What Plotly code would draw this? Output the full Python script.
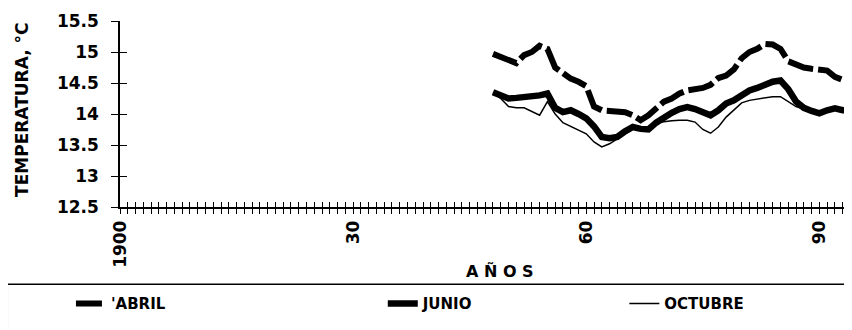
import plotly.graph_objects as go

years = list(range(1948, 1995))

abril = [14.97, 14.92, 14.86, 14.82, 14.95, 15.00, 15.10, 15.05, 14.75, 14.65,
         14.57, 14.52, 14.45, 14.12, 14.06, 14.05, 14.05, 14.03, 13.98, 13.90,
         13.98, 14.10, 14.20, 14.25, 14.33, 14.38, 14.40, 14.42, 14.47, 14.58,
         14.62, 14.72, 14.90, 15.00, 15.05, 15.13, 15.12, 15.05, 14.85, 14.80,
         14.75, 14.73, 14.72, 14.70, 14.60, 14.55, 14.53]

junio = [14.35, 14.30, 14.25, 14.26, 14.27, 14.28, 14.30, 14.33, 14.10, 14.03,
         14.06, 14.00, 13.93, 13.80, 13.63, 13.61, 13.63, 13.72, 13.79, 13.76,
         13.75, 13.86, 13.95, 14.02, 14.08, 14.11, 14.08, 14.02, 13.98, 14.06,
         14.17, 14.22, 14.30, 14.38, 14.42, 14.48, 14.52, 14.54, 14.40, 14.20,
         14.10, 14.05, 14.01, 14.06, 14.09, 14.06, 14.06]

octubre = [14.35, 14.25, 14.12, 14.10, 14.10, 14.04, 13.98, 14.20, 14.00, 13.86,
           13.80, 13.75, 13.68, 13.55, 13.47, 13.52, 13.60, 13.70, 13.79, 13.79,
           13.80, 13.86, 13.88, 13.89, 13.90, 13.90, 13.87, 13.75, 13.69, 13.79,
           13.95, 14.06, 14.18, 14.22, 14.24, 14.26, 14.28, 14.28, 14.20, 14.12,
           14.08, 14.05, 14.03, 14.04, 14.07, 14.05, 14.06]

series_names = ["'ABRIL", "JUNIO", "OCTUBRE"]

x_tick_vals = list(range(1900, 1995))
x_tick_text = ["1900" if y == 1900 else (str(y - 1900) if (y - 1900) % 30 == 0 else "")
               for y in x_tick_vals]
y_tick_vals = [12.5, 13, 13.5, 14, 14.5, 15, 15.5]
y_tick_text = ["12.5", "13", "13.5", "14", "14.5", "15", "15.5"]

FONT = "DejaVu Sans"

fig = go.Figure()
fig.add_trace(go.Scatter(x=years, y=abril, mode="lines", name=series_names[0],
                         line=dict(color="black", width=6, dash="26px,5px"),
                         legend="legend"))
fig.add_trace(go.Scatter(x=years, y=junio, mode="lines", name=series_names[1],
                         line=dict(color="black", width=6.5),
                         legend="legend2"))
fig.add_trace(go.Scatter(x=years, y=octubre, mode="lines", name=series_names[2],
                         line=dict(color="black", width=1.5),
                         legend="legend3"))
# empty trace so the overlay axes (inner half of the crossing ticks) are drawn
fig.add_trace(go.Scatter(x=[], y=[], xaxis="x2", yaxis="y2", showlegend=False,
                         hoverinfo="skip"))

xr = [1900, 1994.2]
yr = [12.5, 15.5]

legend_common = dict(orientation="h", yanchor="middle", y=-0.52, xanchor="left",
                     bgcolor="rgba(0,0,0,0)", borderwidth=0,
                     font=dict(family=FONT, size=15, color="black", weight="bold"))

fig.update_layout(
    width=844, height=322,
    margin=dict(l=112, r=0, t=12.7, b=122.5),
    paper_bgcolor="white", plot_bgcolor="white",
    font=dict(family=FONT, color="black"),
    xaxis=dict(range=xr, tickmode="array", tickvals=x_tick_vals, ticktext=x_tick_text,
               tickangle=-90, ticks="outside", ticklen=5, tickwidth=1, tickcolor="black",
               showline=True, linecolor="black", linewidth=1.5, showgrid=False,
               zeroline=False,
               tickfont=dict(family=FONT, size=17, color="black", weight="bold")),
    xaxis2=dict(range=xr, overlaying="x", anchor="y", side="bottom",
                tickmode="array", tickvals=x_tick_vals, showticklabels=False,
                ticks="inside", ticklen=5, tickwidth=1, tickcolor="black",
                showline=False, showgrid=False, zeroline=False),
    yaxis=dict(range=yr, tickmode="array", tickvals=y_tick_vals, ticktext=y_tick_text,
               ticks="outside", ticklen=7, tickwidth=1, tickcolor="black",
               ticklabelstandoff=9,
               showline=True, linecolor="black", linewidth=1.5, showgrid=False,
               zeroline=False,
               tickfont=dict(family=FONT, size=17, color="black", weight="bold")),
    yaxis2=dict(range=yr, overlaying="y", anchor="x", side="left",
                tickmode="array", tickvals=y_tick_vals, showticklabels=False,
                ticks="inside", ticklen=7, tickwidth=1, tickcolor="black",
                showline=False, showgrid=False, zeroline=False),
    showlegend=True,
    legend=dict(x=-0.067, **legend_common),
    legend2=dict(x=0.359, **legend_common),
    legend3=dict(x=0.689, **legend_common),
    shapes=[dict(type="rect", xref="paper", yref="paper",
                 x0=-0.154, x1=1.05, y0=-0.415, y1=-0.7,
                 line=dict(color="black", width=1.5), fillcolor="rgba(0,0,0,0)")],
    annotations=[
        dict(text="A Ñ O S", xref="paper", yref="paper", x=0.519, y=-0.345,
             showarrow=False, xanchor="center", yanchor="middle",
             font=dict(family=FONT, size=16, color="black", weight="bold")),
        dict(text="TEMPERATURA, °C", xref="paper", yref="paper", x=-0.133, y=0.52,
             showarrow=False, textangle=-90, xanchor="center", yanchor="middle",
             font=dict(family=FONT, size=17, color="black", weight="bold")),
    ],
)

fig.write_html("out.html")
